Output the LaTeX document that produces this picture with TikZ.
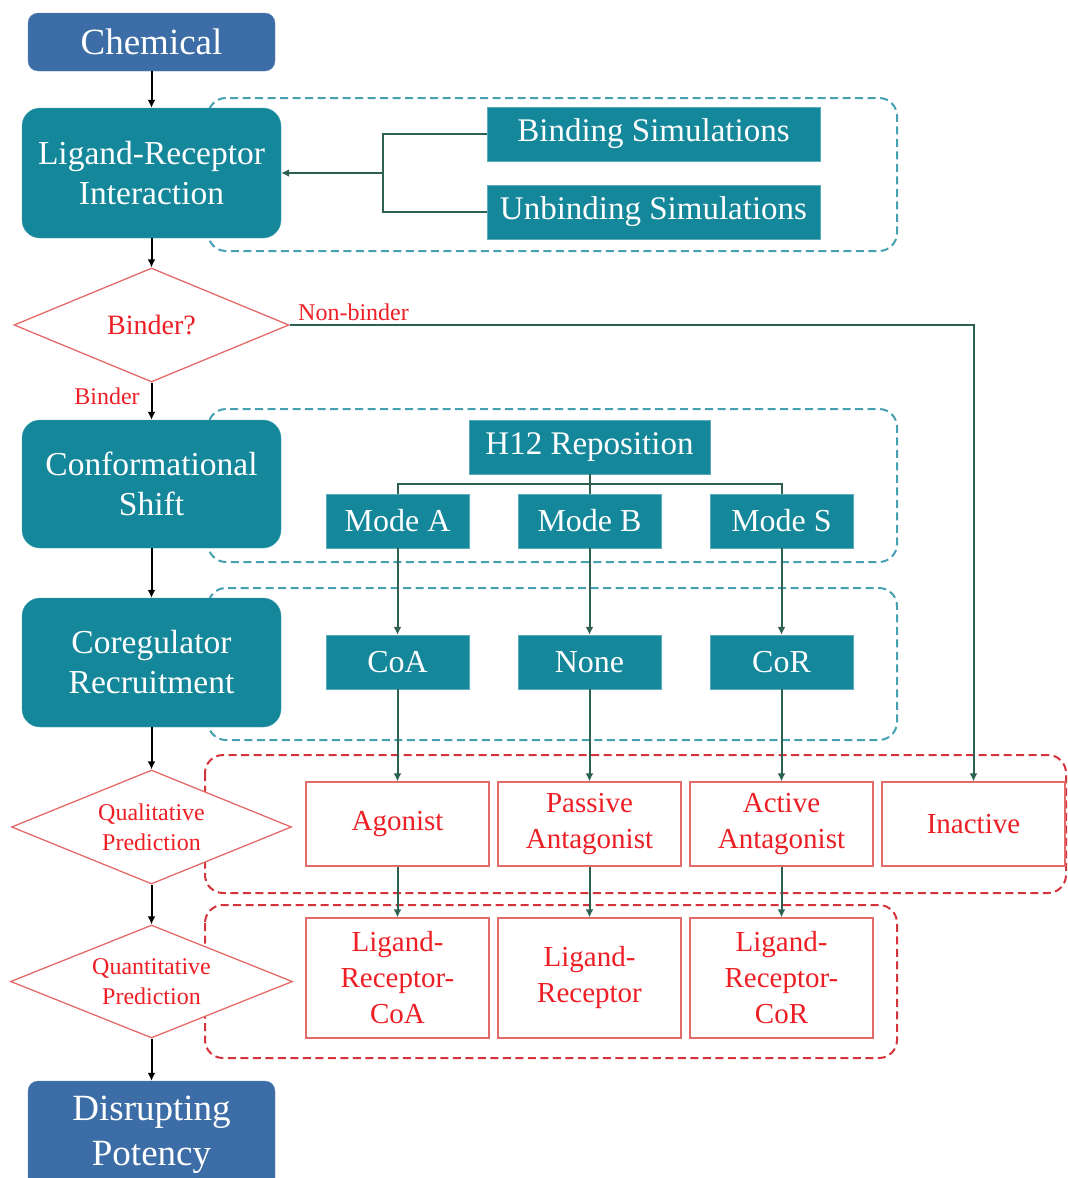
\documentclass[tikz,border=0pt]{standalone}
\usepackage{fontspec}
\setmainfont{Liberation Serif}
\usetikzlibrary{shapes.geometric,arrows.meta}
\definecolor{blueC}{HTML}{3C6DA6}
\definecolor{tealC}{HTML}{15879B}
\definecolor{tealD}{HTML}{45A0B0}
\definecolor{redD}{HTML}{D5333B}
\definecolor{redL}{HTML}{E46A6A}
\definecolor{redT}{HTML}{EE1E25}
\definecolor{greenC}{HTML}{2D6152}
\tikzset{
  bluebox/.style={fill=blueC, draw=blueC!80!white, rounded corners=10pt, text=white, align=center, inner sep=0pt, minimum width=247pt, font=\fontsize{37}{45}\selectfont},
  tealbig/.style={fill=tealC, draw=tealC!80!white, rounded corners=18pt, text=white, align=center, inner sep=0pt, minimum width=259pt, font=\fontsize{33.5}{40}\selectfont},
  tealbox/.style={fill=tealC, draw=tealC!70!white, text=white, align=center, inner sep=0pt, minimum height=54pt, font=\fontsize{33}{40}\selectfont},
  modebox/.style={tealbox, minimum width=143pt, font=\fontsize{32}{38}\selectfont},
  redbox/.style={fill=white, draw=redL, line width=1.3pt, text=redT, align=center, inner sep=0pt, minimum width=183pt, font=\fontsize{29}{36}\selectfont},
  dia/.style={diamond, aspect=2.45, fill=white, draw=redL, line width=1.3pt, text=redT, align=center, inner sep=0pt},
  lab/.style={text=redT, inner sep=0pt, font=\fontsize{24}{28}\selectfont},
  tdash/.style={draw=tealD, dashed, dash pattern=on 8pt off 4.5pt, line width=2pt, rounded corners=18pt},
  rdash/.style={draw=redD, dashed, dash pattern=on 8pt off 4.5pt, line width=2pt, rounded corners=18pt},
  barrow/.style={draw=black, line width=2pt, -{Latex[length=8pt,width=8pt]}},
  garrow/.style={draw=greenC, line width=2pt, -{Latex[length=8pt,width=8pt]}},
  gline/.style={draw=greenC, line width=2pt},
}
\begin{document}
\begin{tikzpicture}[x=1pt,y=-1pt]
\useasboundingbox (0,0) rectangle (1068,1178);
% dashed groups
\draw[tdash] (208,98) rectangle (897,251);
\draw[tdash] (208,409) rectangle (897,562);
\draw[tdash] (208,588) rectangle (897,740);
\draw[rdash] (205,755) rectangle (1066,893);
\draw[rdash] (205,905) rectangle (897,1058);

% left column
\node[bluebox, minimum height=58pt] (chem) at (151.5,42) {Chemical};
\node[tealbig, minimum height=130pt] (lri) at (151.5,173) {Ligand-Receptor\\Interaction};
\node[dia, minimum width=275pt, minimum height=114pt, font=\fontsize{28}{32}\selectfont] (binder) at (151.5,325) {Binder?};
\node[tealbig, minimum height=128pt] (cs) at (151.5,484) {Conformational\\Shift};
\node[tealbig, minimum height=129pt] (cr) at (151.5,662.5) {Coregulator\\Recruitment};
\node[dia, minimum width=280pt, minimum height=114pt, font=\fontsize{24}{30}\selectfont] (qual) at (151.5,827) {Qualitative\\Prediction};
\node[dia, minimum width=282pt, minimum height=113pt, font=\fontsize{24}{30}\selectfont] (quan) at (151.5,981.5) {Quantitative\\Prediction};
\node[bluebox, minimum height=108pt] (dp) at (151.5,1135) {Disrupting\\Potency};

% simulations
\node[tealbox, minimum width=333pt] (bs) at (653.5,134) {Binding Simulations};
\node[tealbox, minimum width=333pt] (us) at (653.5,212) {Unbinding Simulations};
\coordinate (J) at (383,173);

% conformational
\node[tealbox, minimum width=241pt] (h12) at (589.5,447) {H12 Reposition};
\coordinate (T) at (589.5,484);
\node[modebox] (ma) at (397.5,521) {Mode A};
\node[modebox] (mb) at (589.5,521) {Mode B};
\node[modebox] (ms) at (781.5,521) {Mode S};

% coregulators
\node[modebox] (coa) at (397.5,662) {CoA};
\node[modebox] (non) at (589.5,662) {None};
\node[modebox] (cor) at (781.5,662) {CoR};

% qualitative
\node[redbox, minimum height=84pt] (ag) at (397.5,824) {Agonist};
\node[redbox, minimum height=84pt] (pa) at (589.5,824) {Passive\\Antagonist};
\node[redbox, minimum height=84pt] (aa) at (781.5,824) {Active\\Antagonist};
\node[redbox, minimum height=84pt] (in) at (973.5,824) {Inactive};

% quantitative
\node[redbox, minimum height=120pt] (lrcoa) at (397.5,978) {Ligand-\\Receptor-\\CoA};
\node[redbox, minimum height=120pt] (lr) at (589.5,978) {Ligand-\\Receptor};
\node[redbox, minimum height=120pt] (lrcor) at (781.5,978) {Ligand-\\Receptor-\\CoR};

% left column arrows
\draw[barrow] (chem.south) -- (lri.north);
\draw[barrow] (lri.south) -- (binder.north);
\draw[barrow] (binder.south) -- (cs.north);
\draw[barrow] (cs.south) -- (cr.north);
\draw[barrow] (cr.south) -- (qual.north);
\draw[barrow] (qual.south) -- (quan.north);
\draw[barrow] (quan.south) -- (dp.north);

% simulations to LRI
\draw[gline] (bs.west) -| (J);
\draw[gline] (us.west) -| (J);
\draw[garrow] (J) -- (lri.east);

% non-binder
\draw[garrow] (binder.east) -| (in.north);
\node[lab, anchor=west] (nbl) at (298,312) {Non-binder};
\node[lab] (bl) at (107,396) {Binder};

% H12 tree
\draw[gline] (h12.south) -- (T);
\draw[gline] (T) -| (ma.north);
\draw[gline] (T) -- (mb.north);
\draw[gline] (T) -| (ms.north);

% modes to coregulators
\draw[garrow] (ma.south) -- (coa.north);
\draw[garrow] (mb.south) -- (non.north);
\draw[garrow] (ms.south) -- (cor.north);

% coregulators to qualitative
\draw[garrow] (coa.south) -- (ag.north);
\draw[garrow] (non.south) -- (pa.north);
\draw[garrow] (cor.south) -- (aa.north);

% qualitative to quantitative
\draw[garrow] (ag.south) -- (lrcoa.north);
\draw[garrow] (pa.south) -- (lr.north);
\draw[garrow] (aa.south) -- (lrcor.north);
\end{tikzpicture}
\end{document}
